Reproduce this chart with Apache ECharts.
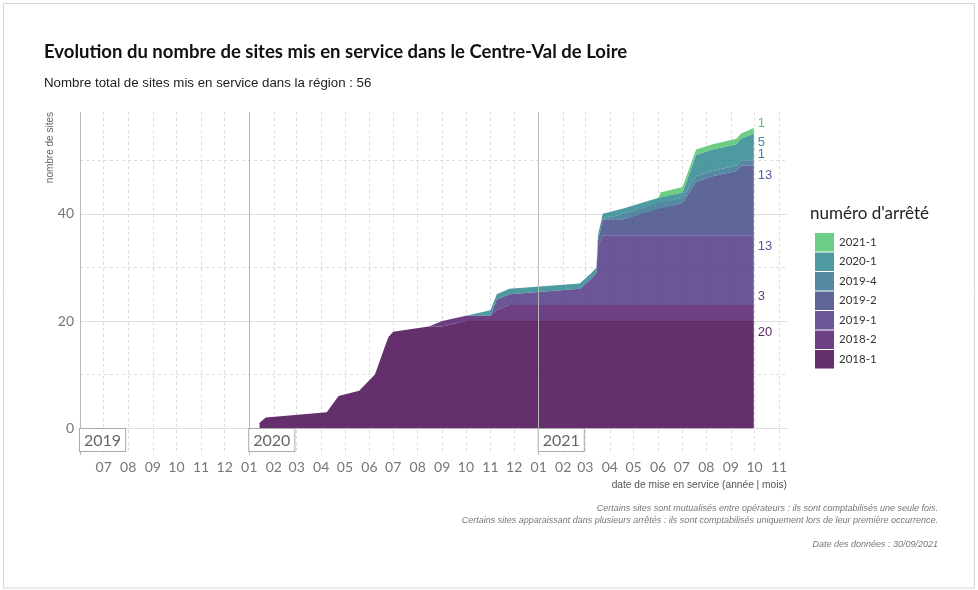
<!DOCTYPE html>
<html>
<head>
<meta charset="utf-8">
<script src="https://cdn.jsdelivr.net/npm/echarts@6/dist/echarts.min.js"></script>
<style>
  html, body { margin: 0; background: #fff; }
  #chart { width: 978px; height: 590px; }
</style>
</head>
<body>
<div id="chart"></div>
<script>
// dates de mise en service (points communs à toutes les séries, empilement par index)
const dates = [
  '2020-01-14', '2020-01-22', '2020-04-08', '2020-04-23', '2020-05-19', '2020-06-08',
  '2020-06-20', '2020-06-25', '2020-07-01', '2020-08-15', '2020-09-01', '2020-10-01',
  '2020-11-01', '2020-11-09', '2020-11-25', '2021-02-22', '2021-03-09', '2021-03-15',
  '2021-03-17', '2021-03-23', '2021-04-18', '2021-06-02', '2021-06-04', '2021-07-02',
  '2021-07-19', '2021-08-09', '2021-09-08', '2021-09-14', '2021-09-30'
]

// nombre cumulé de sites par arrêté
const s2018_1 = [1, 2, 3, 6, 7, 10, 15, 17, 18, 19, 19, 20, 20, 20, 20, 20, 20, 20, 20, 20, 20, 20, 20, 20, 20, 20, 20, 20, 20]
const s2018_2 = [0, 0, 0, 0, 0, 0, 0, 0, 0, 0, 1, 1, 1, 2, 3, 3, 3, 3, 3, 3, 3, 3, 3, 3, 3, 3, 3, 3, 3]
const s2019_1 = [0, 0, 0, 0, 0, 0, 0, 0, 0, 0, 0, 0, 0, 2, 2, 3, 5, 6, 11, 13, 13, 13, 13, 13, 13, 13, 13, 13, 13]
const s2019_2 = [0, 0, 0, 0, 0, 0, 0, 0, 0, 0, 0, 0, 0, 0, 0, 0, 0, 0, 1, 3, 3, 5, 5, 6, 10, 11, 12, 13, 13]
const s2019_4 = [0, 0, 0, 0, 0, 0, 0, 0, 0, 0, 0, 0, 0, 0, 0, 0, 0, 0, 0, 0, 1, 1, 1, 1, 1, 1, 1, 1, 1]
const s2020_1 = [0, 0, 0, 0, 0, 0, 0, 0, 0, 0, 0, 0, 1, 1, 1, 1, 1, 1, 1, 1, 1, 1, 1, 1, 4, 4, 4, 4, 5]
const s2021_1 = [0, 0, 0, 0, 0, 0, 0, 0, 0, 0, 0, 0, 0, 0, 0, 0, 0, 0, 0, 0, 0, 0, 1, 1, 1, 1, 1, 1, 1]

const seriesNames = ['2018-1', '2018-2', '2019-1', '2019-2', '2019-4', '2020-1', '2021-1']
const seriesValues = [s2018_1, s2018_2, s2019_1, s2019_2, s2019_4, s2020_1, s2021_1]

// graduations
const monthTicks = [
  '2019-07-01', '2019-08-01', '2019-09-01', '2019-10-01', '2019-11-01', '2019-12-01',
  '2020-01-01', '2020-02-01', '2020-03-01', '2020-04-01', '2020-05-01', '2020-06-01',
  '2020-07-01', '2020-08-01', '2020-09-01', '2020-10-01', '2020-11-01', '2020-12-01',
  '2021-01-01', '2021-02-01', '2021-03-01', '2021-04-01', '2021-05-01', '2021-06-01',
  '2021-07-01', '2021-08-01', '2021-09-01', '2021-10-01', '2021-11-01'
]
const yearTicks = ['2019-06-01', '2020-01-01', '2021-01-01']
const yMajor = [0, 20, 40]
const yMinor = [10, 30, 50]

// styles
const fillColors = ['#4a0a54', '#531e6d', '#513886', '#434b87', '#367393', '#2e888f', '#53c46e']
const keyColors = ['#652f6e', '#6d4083', '#6b5698', '#5f6699', '#5488a3', '#4d9aa0', '#6dcd84']
const labelColors = ['#5e2a6b', '#6b3d80', '#6a5195', '#57609a', '#3f80a0', '#3e8f9b', '#58c46a']
const labelDy = [11, -9, 11, 10, -6, 9, -5]

const sans = '"Liberation Sans", Arial, sans-serif'
const geo = 'Lato, "Noto Sans", sans-serif'

const ts = (s) => new Date(s + 'T00:00:00').getTime()
const xMin = ts('2019-06-01')
const xMax = ts('2021-11-11')

const chart = echarts.init(document.getElementById('chart'))

const series = seriesNames.map((name, k) => ({
  name,
  type: 'line',
  xAxisIndex: 0,
  yAxisIndex: 0,
  stack: 'total',
  data: dates.map((d, i) => [ts(d), seriesValues[k][i]]),
  showSymbol: false,
  symbol: 'none',
  lineStyle: { width: 0 },
  itemStyle: { color: keyColors[k] },
  areaStyle: { color: fillColors[k], opacity: 0.85 },
  emphasis: { disabled: true },
  endLabel: {
    show: true,
    formatter: (p) => String(p.value[1]),
    color: labelColors[k],
    fontFamily: sans,
    fontSize: 13,
    distance: 4,
    offset: [0, labelDy[k]],
  },
  z: 2,
}))

const titleText = (text, pos, style) => ({ text, padding: 0, ...pos, textStyle: style })

// axes numériques superposés à l'axe temps, uniquement pour les graduations mois / année
const tickAxis = (ticks, extra) => ({
  type: 'value',
  min: xMin,
  max: xMax,
  position: 'bottom',
  axisLine: { show: false },
  axisTick: { show: false, customValues: ticks.map(ts) },
  ...extra,
})

chart.setOption({
  animation: false,
  backgroundColor: '#fff',
  title: [
    titleText('Evolution du nombre de sites mis en service dans le Centre-Val de Loire',
      { left: 44, top: 41 }, { fontFamily: geo, fontSize: 18.5, fontWeight: 'bold', color: '#111', lineHeight: 22 }),
    titleText('Nombre total de sites mis en service dans la région : 56',
      { left: 44, top: 75 }, { fontFamily: sans, fontSize: 13.3, fontWeight: 'normal', color: '#222', lineHeight: 16 }),
    titleText("numéro d'arrêté",
      { left: 810, top: 204 }, { fontFamily: geo, fontSize: 17, fontWeight: 'normal', color: '#222', lineHeight: 20 }),
    titleText('date de mise en service (année | mois)',
      { right: 191, top: 478 }, { fontFamily: sans, fontSize: 10.2, fontWeight: 'normal', color: '#555', lineHeight: 14 }),
    titleText('Certains sites sont mutualisés entre opérateurs : ils sont comptabilisés une seule fois.',
      { right: 40, top: 502.5 }, { fontFamily: sans, fontSize: 9, fontStyle: 'italic', fontWeight: 'normal', color: '#777', lineHeight: 12 }),
    titleText('Certains sites apparaissant dans plusieurs arrêtés : ils sont comptabilisés uniquement lors de leur première occurrence.',
      { right: 40, top: 514.5 }, { fontFamily: sans, fontSize: 9, fontStyle: 'italic', fontWeight: 'normal', color: '#777', lineHeight: 12 }),
    titleText('Date des données : 30/09/2021',
      { right: 40, top: 538 }, { fontFamily: sans, fontSize: 9, fontStyle: 'italic', fontWeight: 'normal', color: '#777', lineHeight: 12 }),
  ],
  legend: {
    orient: 'vertical',
    left: 810,
    top: 228,
    itemWidth: 19,
    itemHeight: 18.5,
    itemGap: 1,
    icon: 'rect',
    selectedMode: false,
    data: seriesNames.slice().reverse(),
    textStyle: { fontFamily: geo, fontSize: 11.5, color: '#333' },
  },
  grid: { left: 80, right: 191, top: 112, bottom: 135, outerBoundsMode: 'none' },
  xAxis: [
    { type: 'time', min: xMin, max: xMax, show: false },
    tickAxis(monthTicks, {
      axisLabel: {
        customValues: monthTicks.map(ts),
        formatter: (v) => String(new Date(v).getMonth() + 1).padStart(2, '0'),
        fontFamily: geo,
        fontSize: 14,
        color: '#777',
        margin: 5,
      },
      splitLine: { show: true, lineStyle: { color: '#dcdcdc', type: [3, 3], width: 1 } },
    }),
    tickAxis(yearTicks, {
      axisLabel: {
        customValues: yearTicks.map(ts),
        inside: true,
        margin: 4,
        align: 'left',
        formatter: (v) => String(new Date(v).getFullYear()),
        fontFamily: geo,
        fontSize: 16,
        lineHeight: 17,
        color: '#666',
        backgroundColor: '#fff',
        borderColor: '#aaa',
        borderWidth: 1,
        padding: [3, 4, 2, 4],
      },
      splitLine: { show: true, lineStyle: { color: '#b8b8b8', width: 1 } },
      z: 3,
    }),
  ],
  yAxis: [
    {
      type: 'value',
      min: -5,
      max: 59,
      axisLine: { show: false },
      axisTick: { show: false, customValues: yMajor },
      axisLabel: { customValues: yMajor, fontFamily: geo, fontSize: 14, color: '#777', margin: 6 },
      splitLine: { show: true, lineStyle: { color: '#dedede', width: 1 } },
    },
    {
      type: 'value',
      min: -5,
      max: 59,
      position: 'left',
      axisLine: { show: false },
      axisTick: { show: false, customValues: yMinor },
      axisLabel: { show: false, customValues: yMinor },
      splitLine: { show: true, lineStyle: { color: '#dcdcdc', type: [3, 3], width: 1 } },
    },
  ],
  graphic: [
    {
      type: 'rect',
      shape: { x: 3.5, y: 3.5, width: 971, height: 584.5 },
      style: { fill: 'none', stroke: '#d6d6d6', lineWidth: 1 },
      silent: true,
    },
    {
      type: 'text',
      x: 50,
      y: 112,
      rotation: Math.PI / 2,
      style: { text: 'nombre de sites', align: 'right', verticalAlign: 'middle', font: '10px ' + sans, fill: '#666' },
      silent: true,
    },
  ],
  series,
})
</script>
</body>
</html>
